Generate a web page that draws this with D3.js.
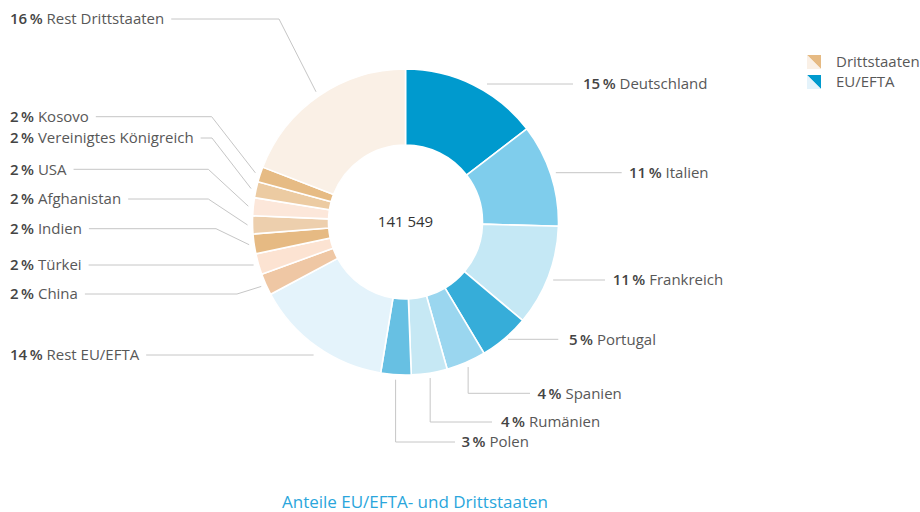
<!DOCTYPE html>
<html><head><meta charset="utf-8">
<script src="https://cdn.jsdelivr.net/npm/d3@7"></script>
<style>
body{margin:0;background:#fff;}
text{font-family:"Open Sans","Noto Sans",sans-serif;}
</style></head>
<body><svg id="c" width="920" height="512"></svg>
<script>
// ---- data ----
const categories = ["Deutschland","Italien","Frankreich","Portugal","Spanien","Rumänien","Polen","Rest EU/EFTA",
  "China","Türkei","Indien","Afghanistan","USA","Vereinigtes Königreich","Kosovo","Rest Drittstaaten"];
const groups = ["EU","EU","EU","EU","EU","EU","EU","EU","D","D","D","D","D","D","D","D"];
const shares = [14.6,10.9,10.7,5.3,4.2,3.8,3.2,14.6,2.3,2.2,2.1,1.9,1.9,1.7,1.6,19.2];
const pctLabels = ["15","11","11","5","4","4","3","14","2","2","2","2","2","2","2","16"];
const total = "141 549";
const legendLabels = ["Drittstaaten","EU/EFTA"];
const title = "Anteile EU/EFTA- und Drittstaaten";

// ---- styles / layout ----
const colors = ["#009ace","#7fcdec","#c5e8f5","#36add9","#9ad6ef","#c6e8f4","#67c0e3","#e4f3fb",
  "#efc7a4","#fce3d2","#e6ba83","#edcfad","#fce7da","#eccba2","#e6bb84","#faf0e6"];
// label layout: side, label y, text x, line end x (right) / elbow x
const layout = [
  {side:"r",y:84,tx:583,le:573,straight:true},
  {side:"r",y:172.7,tx:629,le:621.7,straight:true},
  {side:"r",y:280,tx:612.7,le:605,straight:true},
  {side:"r",y:339.3,tx:569,le:558.3,straight:true},
  {side:"b",y:393.3,tx:537.5,le:530},
  {side:"b",y:422,tx:501,le:492},
  {side:"b",y:442,tx:461.5,le:455},
  {side:"l",y:355,tx:10,straight:true},
  {side:"l",y:294,tx:10,elbow:237},
  {side:"l",y:265,tx:10,straight:true},
  {side:"l",y:228.7,tx:10,elbow:216},
  {side:"l",y:199,tx:10,elbow:208.3},
  {side:"l",y:169.3,tx:10,elbow:208.3},
  {side:"l",y:138,tx:10,elbow:212},
  {side:"l",y:116.7,tx:10,elbow:211.7},
  {side:"l",y:19,tx:10,elbow:279}
];
const cx = 405.5, cy = 222, rOut = 153, rIn = 77, rAnchor = 158;
const fs = 15;

const svg = d3.select("#c");
const pie = d3.pie().sort(null).value(d=>d)(shares);
const arc = d3.arc().innerRadius(rIn).outerRadius(rOut);
const g = svg.append("g").attr("transform",`translate(${cx},${cy})`);
g.selectAll("path").data(pie).join("path")
  .attr("d",arc).attr("fill",(d,i)=>colors[i])
  .attr("stroke","#fff").attr("stroke-width",1.6).attr("stroke-linejoin","miter");

g.append("text").attr("x",0).attr("y",0).attr("dy","0.35em").attr("text-anchor","middle")
  .attr("font-size",fs).attr("fill","#333").text(total);

// labels
const lineColor = "#c6c6c6";
pie.forEach((d,i)=>{
  const L = layout[i];
  const mid = (d.startAngle+d.endAngle)/2;
  let ax = cx + rAnchor*Math.sin(mid), ay = cy - rAnchor*Math.cos(mid);
  const t = svg.append("text").attr("x",L.tx).attr("y",L.y).attr("dy","0.35em").attr("font-size",fs);
  t.append("tspan").attr("font-weight",600).attr("fill","#444").text(pctLabels[i]+"\u2009%");
  t.append("tspan").attr("fill","#585858").text(" "+categories[i]);
  let pts;
  if(L.side==="r"){
    pts=[[ax,L.y],[L.le,L.y]]; if(i===0) pts=[[487,L.y],[L.le,L.y]];
  } else if(L.side==="b"){
    pts=[[ax,ay],[ax,L.y],[L.le,L.y]];
  } else {
    const w = t.node().getComputedTextLength();
    const x1 = L.tx + w + 7;
    if(L.straight) pts=[[x1,L.y],[ax,L.y]];
    else pts=[[x1,L.y],[L.elbow,L.y],[ax,ay]];
  }
  svg.append("path").attr("d",d3.line()(pts)).attr("fill","none")
    .attr("stroke",lineColor).attr("stroke-width",1);
});

// legend
const legColors = [["#e6ba83","#faf0e6"],["#009ace","#e4f3fb"]];
legendLabels.forEach((lab,i)=>{
  const x=807,y=55+i*20,s=14;
  svg.append("path").attr("d",`M${x},${y}L${x+s},${y}L${x+s},${y+s}Z`).attr("fill",legColors[i][0]);
  svg.append("path").attr("d",`M${x},${y}L${x},${y+s}L${x+s},${y+s}Z`).attr("fill",legColors[i][1]);
  svg.append("text").attr("x",836).attr("y",y+s/2).attr("dy","0.35em").attr("font-size",fs)
    .attr("fill","#585858").text(lab);
});

svg.append("text").attr("x",415).attr("y",502).attr("dy","0.35em").attr("text-anchor","middle")
  .attr("font-size",17).attr("fill","#2aa6dc").text(title);
</script></body></html>
